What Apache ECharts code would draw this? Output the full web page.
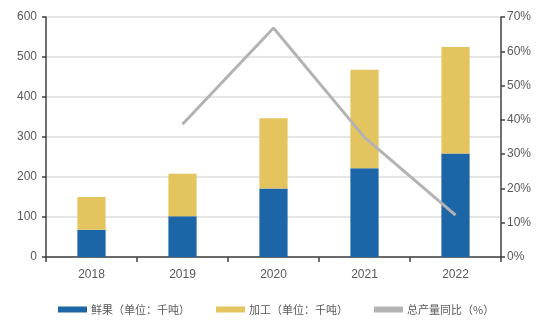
<!DOCTYPE html>
<html>
<head>
<meta charset="utf-8">
<script src="https://cdn.jsdelivr.net/npm/echarts@6/dist/echarts.min.js"></script>
<style>
  html, body { margin: 0; padding: 0; background: #fff; }
  #chart { width: 550px; height: 330px; }
</style>
</head>
<body>
<div id="chart"></div>
<script>
// Years on the category axis
var years = ['2018', '2019', '2020', '2021', '2022'];
// Fresh fruit output (thousand tonnes)
var freshFruit = [68, 102, 171, 222, 259];
// Processed output (thousand tonnes)
var processed = [82, 106, 176, 246, 266];
// Year-on-year growth of total output (%)
var totalYoY = [null, 38.7, 66.8, 34.9, 12.2];

var seriesNames = ['鲜果（单位：千吨）', '加工（单位：千吨）', '总产量同比（%）'];

var axisLabelStyle = { color: '#595959', fontSize: 12, fontFamily: 'Liberation Sans, Arial, sans-serif' };
var axisLineStyle = { show: true, lineStyle: { color: '#404040', width: 1.5 } };

var chart = echarts.init(document.getElementById('chart'));
chart.setOption({
  animation: false,
  backgroundColor: '#ffffff',
  grid: { left: 46, right: 49, top: 17, bottom: 73 },
  legend: {
    left: 53,
    top: 299,
    itemWidth: 29,
    itemHeight: 6,
    itemGap: 26,
    icon: 'rect',
    textStyle: { color: '#595959', fontSize: 11, fontFamily: 'Noto Sans CJK SC', padding: [0, 0, 0, -1] },
    data: seriesNames
  },
  xAxis: {
    type: 'category',
    data: years,
    axisLine: axisLineStyle,
    axisTick: { show: true, length: 5, lineStyle: { color: '#404040', width: 1.5 } },
    axisLabel: Object.assign({ margin: 12 }, axisLabelStyle)
  },
  yAxis: [
    {
      type: 'value',
      min: 0, max: 600, interval: 100,
      axisLine: axisLineStyle,
      axisTick: { show: true, length: 4, lineStyle: { color: '#404040', width: 1.5 } },
      axisLabel: Object.assign({ margin: 9 }, axisLabelStyle),
      splitLine: { show: true, lineStyle: { color: '#dcdcdc', width: 1.5 } }
    },
    {
      type: 'value',
      min: 0, max: 70, interval: 10,
      position: 'right',
      axisLine: axisLineStyle,
      axisTick: { show: true, length: 4, lineStyle: { color: '#404040', width: 1.5 } },
      axisLabel: Object.assign({ margin: 6, formatter: '{value}%' }, axisLabelStyle),
      splitLine: { show: false }
    }
  ],
  series: [
    {
      name: seriesNames[0],
      type: 'bar',
      stack: 'output',
      barWidth: '31%',
      itemStyle: { color: '#1c66a7' },
      data: freshFruit
    },
    {
      name: seriesNames[1],
      type: 'bar',
      stack: 'output',
      barWidth: '31%',
      itemStyle: { color: '#e4c45e' },
      data: processed
    },
    {
      name: seriesNames[2],
      type: 'line',
      yAxisIndex: 1,
      showSymbol: false,
      symbol: 'none',
      itemStyle: { color: '#b3b3b3' },
      lineStyle: { color: '#b3b3b3', width: 3 },
      data: totalYoY
    }
  ]
});
</script>
</body>
</html>
